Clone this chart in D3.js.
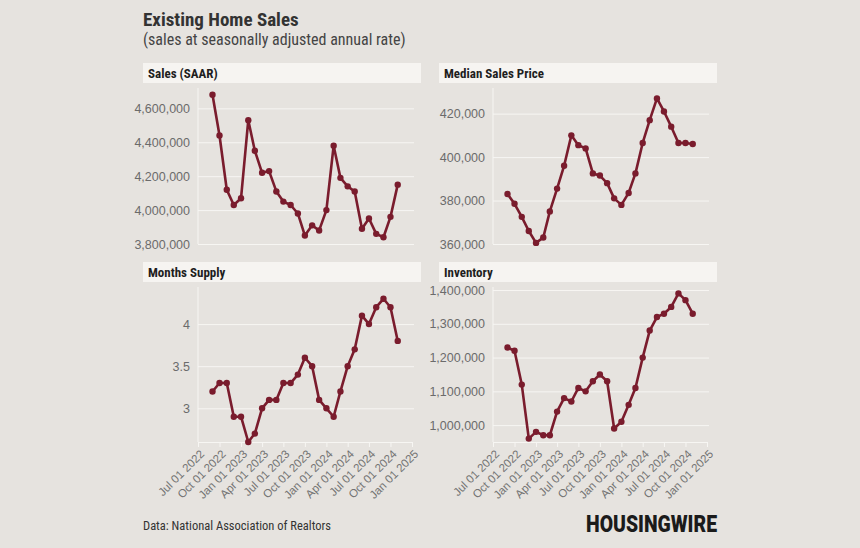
<!DOCTYPE html>
<html>
<head>
<meta charset="utf-8">
<script src="https://cdn.jsdelivr.net/npm/d3@7"></script>
<style>
  body { margin: 0; background: #e6e3df; }
  svg { display: block; font-family: "Roboto Condensed", "Liberation Sans Narrow", "DejaVu Sans Condensed", sans-serif; }
</style>
</head>
<body>
<svg id="chart" width="860" height="548"></svg>
<script>
// --- --- --- Data --- --- ---
const months = ["2022-09","2022-10","2022-11","2022-12","2023-01","2023-02","2023-03","2023-04","2023-05",
  "2023-06","2023-07","2023-08","2023-09","2023-10","2023-11","2023-12","2024-01","2024-02","2024-03",
  "2024-04","2024-05","2024-06","2024-07","2024-08","2024-09","2024-10","2024-11"];

const salesSaar = [4680000, 4440000, 4120000, 4030000, 4070000, 4530000, 4350000, 4220000, 4230000,
  4110000, 4050000, 4030000, 3980000, 3850000, 3910000, 3880000, 4000000, 4380000, 4190000,
  4140000, 4110000, 3890000, 3950000, 3860000, 3840000, 3960000, 4150000];

const medianPrice = [383000, 378500, 372500, 366000, 360500, 363000, 375000, 385500, 396000,
  410000, 405500, 404000, 392500, 391500, 388000, 381000, 378000, 383500, 392500,
  406500, 417000, 427000, 421000, 414000, 406500, 406500, 406000];

const monthsSupply = [3.2, 3.3, 3.3, 2.9, 2.9, 2.6, 2.7, 3.0, 3.1,
  3.1, 3.3, 3.3, 3.4, 3.6, 3.5, 3.1, 3.0, 2.9, 3.2,
  3.5, 3.7, 4.1, 4.0, 4.2, 4.3, 4.2, 3.8];

const inventory = [1230000, 1220000, 1120000, 960000, 980000, 970000, 970000, 1040000, 1080000,
  1070000, 1110000, 1100000, 1130000, 1150000, 1130000, 990000, 1010000, 1060000, 1110000,
  1200000, 1280000, 1320000, 1330000, 1350000, 1390000, 1370000, 1330000];

const salesTicks = [3800000, 4000000, 4200000, 4400000, 4600000];
const priceTicks = [360000, 380000, 400000, 420000];
const supplyTicks = [3, 3.5, 4];
const inventoryTicks = [1000000, 1100000, 1200000, 1300000, 1400000];

// --- --- --- Layout --- --- ---
const lineColor = "#7a1c2d";
const gridColor = "#f7f6f3";
const textColor = "#6b6b6b";
const parseMonth = d3.timeParse("%Y-%m");
const dates = months.map(parseMonth);

const svg = d3.select("#chart");

svg.append("text")
  .attr("x", 143).attr("y", 26)
  .attr("font-size", 19).attr("font-weight", "bold").attr("fill", "#333")
  .text("Existing Home Sales");
svg.append("text")
  .attr("x", 143).attr("y", 45)
  .attr("font-size", 16).attr("fill", "#444")
  .text("(sales at seasonally adjusted annual rate)");

const panels = [
  { title: "Sales (SAAR)", values: salesSaar, domain: [3800000, 4720000], ticks: salesTicks, fmt: d3.format(","),
    hx: 143, hy: 63, px: 198, py: 88, ph: 156, xAxis: false },
  { title: "Median Sales Price", values: medianPrice, domain: [360000, 431800], ticks: priceTicks, fmt: d3.format(","),
    hx: 439, hy: 63, px: 493, py: 88, ph: 156, xAxis: false },
  { title: "Months Supply", values: monthsSupply, domain: [2.6, 4.44], ticks: supplyTicks, fmt: d3.format(""),
    hx: 143, hy: 262, px: 198, py: 287, ph: 155, xAxis: true },
  { title: "Inventory", values: inventory, domain: [950000, 1409000], ticks: inventoryTicks, fmt: d3.format(","),
    hx: 439, hy: 262, px: 493, py: 287, ph: 155, xAxis: true }
];

const plotW = 214;
const xDomain = [new Date(2022, 6, 1), new Date(2025, 0, 1)];

panels.forEach(p => {
  // header strip
  svg.append("rect")
    .attr("x", p.hx).attr("y", p.hy)
    .attr("width", 278).attr("height", 20)
    .attr("fill", "#f6f4f1");
  svg.append("text")
    .attr("x", p.hx + 5).attr("y", p.hy + 14.5)
    .attr("font-size", 13).attr("font-weight", "bold").attr("fill", "#1e1e1e")
    .text(p.title);

  const g = svg.append("g").attr("transform", `translate(${p.px},${p.py})`);
  const x = d3.scaleTime().domain(xDomain).range([0, plotW]);
  const y = d3.scaleLinear().domain(p.domain).range([p.ph, 0]);

  // gridlines + labels
  const yAxis = g.append("g")
    .call(d3.axisLeft(y).tickValues(p.ticks).tickFormat(p.fmt).tickSize(-plotW - 2).tickPadding(8));
  yAxis.select(".domain").remove();
  yAxis.selectAll(".tick line").attr("stroke", gridColor).attr("stroke-width", 1);
  yAxis.selectAll(".tick text")
    .attr("fill", textColor).attr("font-size", 12.5)
    .attr("font-family", null);

  // left axis line
  g.append("line")
    .attr("x1", 0).attr("x2", 0).attr("y1", 0).attr("y2", p.ph)
    .attr("stroke", gridColor).attr("stroke-width", 1);

  if (p.xAxis) {
    const xAxis = g.append("g")
      .attr("transform", `translate(0,${p.ph})`)
      .call(d3.axisBottom(x).ticks(d3.timeMonth.every(3)).tickFormat(d3.timeFormat("%b %d %Y")).tickSize(5));
    xAxis.select(".domain").attr("stroke", gridColor);
    xAxis.selectAll(".tick line").attr("stroke", gridColor);
    xAxis.selectAll(".tick text")
      .attr("fill", "#737373").attr("font-size", 11.5)
      .attr("font-family", null)
      .attr("text-anchor", "end")
      .attr("dx", -4.4).attr("dy", 5.6)
      .attr("transform", "rotate(-45)");
  }

  const line = d3.line()
    .x((d, i) => x(dates[i]))
    .y(d => y(d));

  g.append("path")
    .datum(p.values)
    .attr("d", line)
    .attr("fill", "none")
    .attr("stroke", lineColor)
    .attr("stroke-width", 2.6)
    .attr("stroke-linejoin", "round");

  g.selectAll(".pt")
    .data(p.values)
    .enter()
    .append("circle")
    .attr("class", "pt")
    .attr("cx", (d, i) => x(dates[i]))
    .attr("cy", d => y(d))
    .attr("r", 3.2)
    .attr("fill", lineColor);
});

// footer
svg.append("text")
  .attr("x", 143).attr("y", 530)
  .attr("font-size", 12.5).attr("fill", "#333")
  .text("Data: National Association of Realtors");

svg.append("text")
  .attr("x", 586).attr("y", 532)
  .attr("font-family", "Roboto, 'Liberation Sans', sans-serif")
  .attr("font-size", 23).attr("font-weight", 900).attr("fill", "#1b1b1b")
  .attr("textLength", 131).attr("lengthAdjust", "spacingAndGlyphs")
  .text("HOUSINGWIRE");
</script>
</body>
</html>
